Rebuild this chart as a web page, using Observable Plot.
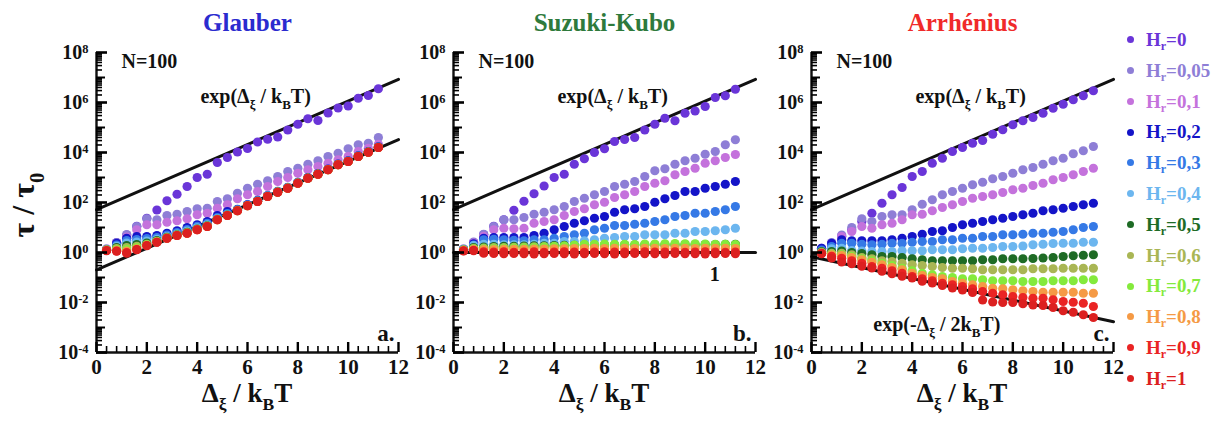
<!DOCTYPE html>
<html><head><meta charset="utf-8">
<script src="https://cdn.jsdelivr.net/npm/d3@7"></script>
<script src="https://cdn.jsdelivr.net/npm/@observablehq/plot@0.6"></script>
<style>
body{margin:0;background:#fff;}
#chart{position:relative;width:1220px;height:421px;overflow:hidden;font-family:"Liberation Serif","Times New Roman",serif;}
.panel{position:absolute;top:0;}
.item{position:absolute;left:1127px;white-space:nowrap;font-weight:bold;font-size:19px;line-height:20px;}
.item .dot{display:inline-block;width:7px;height:7px;border-radius:50%;margin-right:12px;vertical-align:middle;position:relative;top:-2px;}
.item sub{font-size:12px;vertical-align:-4px;}
</style></head><body><div id="chart"></div><script>
// ---------- data ----------
const xs = [0.4,0.8,1.2,1.6,2.0,2.4,2.8,3.2,3.6,4.0,4.4,4.8,5.2,5.6,6.0,6.4,6.8,7.2,7.6,8.0,8.4,8.8,9.2,9.6,10.0,10.4,10.8,11.2];
const hrLabels = ["0","0,05","0,1","0,2","0,3","0,4","0,5","0,6","0,7","0,8","0,9","1"];
const hrColors = ["#6a35d8","#8e7ed6","#c472dc","#1414c8","#3579e6","#6cb6ef","#1e6b25","#a9b654","#84ea3c","#f59a45","#ea2424","#dc2020"];
const yTickLabels = ["10^-4","10^-2","10^0","10^2","10^4","10^6","10^8"];
const xTickLabels = ["0","2","4","6","8","10","12"];
const titles = ["Glauber","Suzuki-Kubo","Arrhénius"];
const titleColors = ["#2b2bcf","#2e7a3c","#f02a2a"];

// log10(tau/tau0), one array per H_r
const glauber_0    = [0.1,0.4,0.7,1.05,1.37,1.7,2.07,2.33,2.64,3.0,3.13,3.6,3.8,4.02,4.16,4.42,4.53,4.62,4.9,5.13,5.35,5.28,5.58,5.78,5.86,6.17,6.28,6.55];
const glauber_005  = [0.15,0.4,0.72,1.04,1.35,1.31,1.48,1.53,1.64,1.75,1.77,2.04,2.15,2.37,2.57,2.73,2.87,3.04,3.24,3.37,3.53,3.67,3.84,3.97,4.15,4.31,4.37,4.6];
const glauber_01   = [0.12,0.35,0.62,0.91,1.11,1.11,1.21,1.27,1.35,1.51,1.57,1.77,1.91,2.15,2.31,2.44,2.64,2.84,3.0,3.17,3.31,3.44,3.57,3.71,3.84,4.04,4.17,4.33];
const glauber_02   = [0.1,0.37,0.57,0.64,0.64,0.68,0.77,0.87,1.0,1.11,1.24,1.48,1.64,1.73,1.92,2.09,2.28,2.45,2.61,2.81,3.0,3.16,3.34,3.54,3.67,3.87,4.04,4.23];
const glauber_03   = [0.1,0.3,0.48,0.52,0.56,0.6,0.7,0.8,0.92,1.05,1.17,1.4,1.56,1.71,1.9,2.07,2.27,2.44,2.6,2.8,2.99,3.15,3.33,3.53,3.66,3.86,4.03,4.22];
const glauber_04   = [0.1,0.25,0.38,0.42,0.46,0.53,0.64,0.74,0.86,0.99,1.11,1.36,1.52,1.7,1.89,2.06,2.26,2.43,2.59,2.79,2.98,3.14,3.32,3.52,3.65,3.85,4.02,4.21];
const glauber_05   = [0.1,0.2,0.28,0.32,0.38,0.48,0.61,0.71,0.81,0.94,1.07,1.33,1.5,1.69,1.88,2.05,2.25,2.42,2.58,2.78,2.98,3.14,3.32,3.52,3.65,3.85,4.02,4.21];
const glauber_06   = [0.1,0.16,0.2,0.25,0.33,0.45,0.59,0.7,0.79,0.93,1.06,1.32,1.49,1.68,1.88,2.05,2.25,2.42,2.58,2.78,2.97,3.13,3.31,3.51,3.64,3.84,4.01,4.2];
const glauber_07   = [0.1,0.12,0.13,0.2,0.31,0.44,0.58,0.69,0.78,0.92,1.05,1.31,1.48,1.67,1.87,2.04,2.24,2.41,2.57,2.77,2.97,3.13,3.31,3.51,3.64,3.84,4.01,4.2];
const glauber_08   = [0.09,0.09,0.06,0.15,0.29,0.42,0.57,0.68,0.77,0.91,1.04,1.31,1.48,1.67,1.87,2.04,2.24,2.41,2.57,2.77,2.97,3.13,3.31,3.51,3.64,3.84,4.01,4.2];
const glauber_09   = [0.08,0.06,0.0,0.12,0.28,0.41,0.57,0.68,0.77,0.91,1.04,1.31,1.48,1.67,1.87,2.04,2.24,2.41,2.57,2.77,2.97,3.13,3.31,3.51,3.64,3.84,4.01,4.2];
const glauber_1    = [0.07,0.05,-0.03,0.11,0.27,0.41,0.57,0.68,0.77,0.91,1.04,1.31,1.48,1.67,1.87,2.04,2.24,2.41,2.57,2.77,2.97,3.13,3.31,3.51,3.64,3.84,4.01,4.2];

const suzuki_0   = [0.1,0.4,0.72,1.05,1.31,1.69,2.05,2.35,2.66,3.0,3.13,3.53,3.75,4.0,4.15,4.44,4.52,4.6,4.9,5.13,5.37,5.27,5.57,5.66,5.84,6.2,6.27,6.53];
const suzuki_005 = [0.15,0.42,0.73,1.04,1.31,1.31,1.4,1.53,1.61,1.71,1.84,2.04,2.17,2.31,2.44,2.64,2.73,2.84,3.04,3.27,3.35,3.53,3.67,3.77,3.93,4.04,4.31,4.51];
const suzuki_01  = [0.12,0.38,0.65,0.91,0.97,0.95,0.97,1.17,1.24,1.31,1.48,1.64,1.75,1.91,2.01,2.2,2.31,2.44,2.64,2.77,2.87,3.11,3.24,3.37,3.57,3.67,3.8,3.92];
const suzuki_02  = [0.12,0.35,0.57,0.6,0.6,0.6,0.6,0.68,0.77,0.91,1.04,1.17,1.27,1.37,1.44,1.61,1.71,1.75,1.84,2.01,2.15,2.28,2.44,2.44,2.57,2.64,2.73,2.84];
const suzuki_03  = [0.12,0.3,0.51,0.53,0.51,0.49,0.47,0.51,0.51,0.57,0.64,0.71,0.77,0.91,0.97,1.08,1.08,1.13,1.17,1.24,1.31,1.44,1.48,1.57,1.57,1.64,1.71,1.84];
const suzuki_04  = [0.12,0.28,0.33,0.33,0.31,0.31,0.31,0.33,0.37,0.37,0.44,0.44,0.47,0.51,0.57,0.6,0.64,0.64,0.71,0.71,0.71,0.77,0.77,0.84,0.84,0.87,0.91,0.97];
const suzuki_05  = [0.1,0.2,0.22,0.24,0.25,0.25,0.26,0.27,0.27,0.28,0.29,0.29,0.3,0.3,0.3,0.3,0.31,0.3,0.31,0.31,0.31,0.31,0.32,0.31,0.32,0.32,0.33,0.33];
const suzuki_06  = [0.1,0.17,0.18,0.2,0.2,0.21,0.22,0.23,0.24,0.25,0.26,0.27,0.28,0.3,0.3,0.3,0.31,0.3,0.29,0.29,0.28,0.28,0.28,0.27,0.27,0.26,0.27,0.26];
const suzuki_07  = [0.1,0.14,0.15,0.16,0.17,0.18,0.19,0.2,0.22,0.24,0.26,0.3,0.33,0.33,0.34,0.33,0.33,0.32,0.34,0.34,0.35,0.36,0.35,0.35,0.34,0.33,0.33,0.32];
const suzuki_08  = [0.09,0.12,0.12,0.12,0.13,0.13,0.13,0.14,0.14,0.15,0.15,0.16,0.16,0.17,0.16,0.17,0.17,0.16,0.17,0.17,0.16,0.17,0.17,0.16,0.17,0.17,0.17,0.16];
const suzuki_09  = [0.07,0.09,0.03,0.02,0.03,0.01,0.02,0.03,0.01,0.02,0.03,0.02,0.01,0.02,0.03,0.02,0.02,0.01,0.03,0.02,0.02,0.03,0.01,0.02,0.03,0.02,0.01,0.02];
const suzuki_1   = [0.06,0.07,-0.03,-0.04,-0.05,-0.04,-0.05,-0.06,-0.05,-0.04,-0.05,-0.06,-0.05,-0.04,-0.05,-0.06,-0.05,-0.04,-0.05,-0.05,-0.06,-0.04,-0.05,-0.05,-0.06,-0.05,-0.04,-0.05];

const arrhenius_0   = [0.17,0.37,0.64,0.91,1.24,1.57,1.97,2.31,2.6,3.04,3.24,3.57,3.77,4.04,4.2,4.37,4.48,4.73,4.91,5.11,5.27,5.4,5.57,5.77,5.93,6.11,6.27,6.47];
const arrhenius_005 = [0.15,0.4,0.7,1.0,1.35,1.24,1.44,1.51,1.51,1.71,1.93,2.11,2.31,2.44,2.57,2.71,2.81,2.95,3.04,3.17,3.31,3.4,3.53,3.67,3.77,3.95,4.07,4.24];
const arrhenius_01  = [0.12,0.35,0.64,0.84,1.04,0.97,1.11,1.17,1.31,1.51,1.53,1.67,1.8,1.91,2.04,2.17,2.24,2.31,2.4,2.51,2.57,2.68,2.77,2.91,3.0,3.11,3.24,3.37];
const arrhenius_02  = [0.17,0.37,0.51,0.47,0.47,0.47,0.47,0.51,0.57,0.64,0.73,0.84,0.87,1.0,1.11,1.17,1.24,1.31,1.37,1.44,1.51,1.57,1.67,1.71,1.77,1.84,1.91,1.97];
const arrhenius_03  = [0.1,0.24,0.37,0.37,0.33,0.31,0.33,0.37,0.37,0.41,0.44,0.44,0.51,0.51,0.57,0.57,0.64,0.64,0.71,0.71,0.73,0.77,0.77,0.81,0.84,0.91,1.0,1.04];
const arrhenius_04  = [0.04,0.15,0.17,0.08,0.06,0.04,0.04,0.04,0.07,0.07,0.07,0.11,0.11,0.11,0.15,0.17,0.17,0.2,0.24,0.24,0.26,0.31,0.33,0.36,0.37,0.37,0.41,0.41];
const arrhenius_05  = [0.04,0.04,0.06,0.0,-0.04,-0.09,-0.16,-0.16,-0.2,-0.25,-0.29,-0.33,-0.33,-0.33,-0.33,-0.33,-0.29,-0.29,-0.25,-0.25,-0.25,-0.24,-0.22,-0.2,-0.16,-0.13,-0.11,-0.09];
const arrhenius_06  = [0.01,-0.03,-0.03,-0.09,-0.2,-0.25,-0.33,-0.36,-0.43,-0.49,-0.52,-0.56,-0.6,-0.63,-0.63,-0.65,-0.69,-0.69,-0.69,-0.69,-0.69,-0.65,-0.65,-0.65,-0.63,-0.63,-0.63,-0.63];
const arrhenius_07  = [-0.03,-0.07,-0.09,-0.16,-0.25,-0.33,-0.43,-0.52,-0.63,-0.73,-0.83,-0.89,-0.96,-1.0,-1.05,-1.05,-1.09,-1.13,-1.13,-1.13,-1.16,-1.16,-1.16,-1.13,-1.13,-1.13,-1.09,-1.09];
const arrhenius_08  = [-0.03,-0.09,-0.12,-0.2,-0.29,-0.39,-0.49,-0.6,-0.69,-0.83,-0.92,-1.0,-1.05,-1.16,-1.23,-1.29,-1.36,-1.43,-1.45,-1.49,-1.53,-1.56,-1.59,-1.59,-1.59,-1.59,-1.63,-1.63];
const arrhenius_09  = [-0.03,-0.15,-0.23,-0.33,-0.43,-0.56,-0.63,-0.73,-0.83,-0.96,-1.05,-1.13,-1.23,-1.29,-1.36,-1.45,-1.56,-1.63,-1.69,-1.76,-1.8,-1.83,-1.83,-1.89,-1.96,-1.99,-2.03,-2.16];
const arrhenius_1   = [-0.05,-0.22,-0.38,-0.45,-0.55,-0.62,-0.75,-0.85,-0.95,-1.02,-1.15,-1.22,-1.32,-1.42,-1.5,-1.6,-1.9,-1.98,-2.0,-2.0,-2.05,-2.1,-2.12,-2.2,-2.33,-2.39,-2.49,-2.6];

// reference lines (values at x = 0 and x = 12)
const lineX = [0, 12];
const expUpper = [52, 8.5e6];          // exp(Δ/kT)
const glauberLower = [0.2, 3.3e4];
const unityLine = [1, 1];
const expHalfDown = [0.68, 1.7e-3];    // exp(-Δ/2kT)

// ---------- drawing ----------
const FONT = '"Liberation Serif","Times New Roman",serif';
const chart = document.getElementById("chart");
const yMajor = [1e-4,1e-2,1,1e2,1e4,1e6,1e8];
const yOdd = [1e-3,1e-1,1e1,1e3,1e5,1e7];
const yMinor = d3.range(-4, 8).flatMap(e => [2,3,4,5,6,7,8,9].map(k => k * 10 ** e));
const xMajor = [0,2,4,6,8,10,12];
const xMinor = d3.range(0, 31).map(i => +(i * 0.4).toFixed(1)).filter(v => v <= 12 && !xMajor.includes(v));

// tick lengths in scale units (x: 12 units over 302 px; y: 12 decades over 300 px)
const PX_X = 12 / 302, PX_Y = 12 / 300;
const TICK = "#000";
const yTickRule = (values, px, sw) => Plot.ruleY(values, {x1: 0, x2: px * PX_X, stroke: TICK, strokeWidth: sw});
const xTickRule = (values, px, sw) => Plot.ruleX(values, {y1: 1e-4, y2: 1e-4 * 10 ** (px * PX_Y), stroke: TICK, strokeWidth: sw});

function rich(svg, x, y, parts, {size = 20, fill = "#111", anchor = "start", rotate = 0} = {}) {
  const t = d3.select(svg).append("text").attr("x", x).attr("y", y)
    .attr("font-family", FONT).attr("font-weight", "bold").attr("font-size", size)
    .attr("fill", fill).attr("text-anchor", anchor);
  if (rotate) t.attr("transform", `rotate(${rotate},${x},${y})`);
  let shift = 0;
  for (const [s, kind] of parts) {
    const target = kind === "sub" ? 0.3 * size : kind === "sup" ? -0.42 * size : 0;
    const ts = t.append("tspan").text(s).attr("dy", target - shift);
    if (kind) ts.attr("font-size", size * 0.65);
    shift = target;
  }
  return t;
}

function makePanel(idx, series, lines, {left, width, ml, mr, letter}) {
  const rows = [];
  series.forEach((arr, i) => arr.forEach((v, j) => rows.push({x: xs[j], y: 10 ** v, hr: hrLabels[i]})));
  const lineRows = lines.flatMap((ys, k) => ys.map((v, j) => ({x: lineX[j], y: v, id: k})));
  const plot = Plot.plot({
    width, height: 421,
    marginLeft: ml, marginRight: mr, marginTop: 52, marginBottom: 69,
    style: {background: "transparent", fontFamily: FONT, overflow: "visible", maxWidth: "none"},
    x: {domain: [0, 12], label: null},
    y: {type: "log", domain: [1e-4, 1e8], label: null},
    color: {domain: hrLabels, range: hrColors},
    marks: [
      Plot.axisY(yMajor, {tickSize: 0, tickPadding: 8, label: null,
        tickFormat: d => yTickLabels[yMajor.indexOf(d)], fontSize: 20, fontWeight: "bold", fill: "#111"}),
      Plot.axisX(xMajor, {tickSize: 0, tickPadding: 7, label: null,
        tickFormat: d => xTickLabels[xMajor.indexOf(d)], fontSize: 21, fontWeight: "bold", fill: "#111"}),
      Plot.ruleX([0], {strokeWidth: 2.4, stroke: "#111"}),
      Plot.ruleY([1e-4], {strokeWidth: 2.4, stroke: "#111"}),
      Plot.line(lineRows, {x: "x", y: "y", z: "id", stroke: "#111", strokeWidth: 3}),
      Plot.dot(rows, {x: "x", y: "y", fill: "hr", r: 4.6}),
      yTickRule(yMinor, 6, 1.6),
      yTickRule(yOdd, 9, 2),
      yTickRule(yMajor, 11, 2.6),
      xTickRule(xMinor, 6, 1.6),
      xTickRule(xMajor, 10, 2.4),
      Plot.text(["N=100"], {frameAnchor: "top-left", dx: 25, dy: 1, lineAnchor: "top", textAnchor: "start",
        fontSize: 20, fontWeight: "bold", fill: "#111"}),
      Plot.text([letter], {frameAnchor: "bottom-right", dx: -4, dy: -12, lineAnchor: "bottom", textAnchor: "end",
        fontSize: 23, fontWeight: "bold", fill: "#111"}),
      Plot.text([titles[idx]], {frameAnchor: "top", dy: -22, lineAnchor: "bottom",
        fontSize: 25, fontWeight: "bold", fill: titleColors[idx]})
    ]
  });
  plot.classList.add("panel");
  plot.style.left = left + "px";
  chart.appendChild(plot);
  // superscripts on y tick labels
  plot.querySelectorAll('g[aria-label="y-axis tick label"] text').forEach(t => {
    if (!t.textContent.includes("^")) return;
    const [b, e] = t.textContent.split("^");
    t.textContent = "";
    const s = d3.select(t);
    s.append("tspan").text(b);
    s.append("tspan").text(e).attr("dy", "-0.45em").attr("font-size", "0.62em");
  });
  const sx = v => plot.scale("x").apply(v), sy = v => plot.scale("y").apply(v);
  // x-axis title
  rich(plot, (sx(0) + sx(12)) / 2, 402, [["Δ"], ["ξ", "sub"], [" / k"], ["B", "sub"], ["T"]], {size: 27, anchor: "middle"});
  return {plot, sx, sy};
}

const A = makePanel(0,
  [glauber_0, glauber_005, glauber_01, glauber_02, glauber_03, glauber_04, glauber_05, glauber_06, glauber_07, glauber_08, glauber_09, glauber_1],
  [expUpper, glauberLower], {left: 0, width: 420, ml: 96, mr: 22, letter: "a."});
const B = makePanel(1,
  [suzuki_0, suzuki_005, suzuki_01, suzuki_02, suzuki_03, suzuki_04, suzuki_05, suzuki_06, suzuki_07, suzuki_08, suzuki_09, suzuki_1],
  [expUpper, unityLine], {left: 400, width: 375, ml: 53, mr: 20, letter: "b."});
const C = makePanel(2,
  [arrhenius_0, arrhenius_005, arrhenius_01, arrhenius_02, arrhenius_03, arrhenius_04, arrhenius_05, arrhenius_06, arrhenius_07, arrhenius_08, arrhenius_09, arrhenius_1],
  [expUpper, expHalfDown], {left: 758, width: 375, ml: 53, mr: 20, letter: "c."});

const expParts = [["exp(Δ"], ["ξ", "sub"], [" / k"], ["B", "sub"], ["T)"]];
for (const P of [A, B, C]) rich(P.plot, P.sx(4.15), P.sy(10 ** 5.95), expParts, {size: 20});
rich(C.plot, C.sx(5.0), C.sy(10 ** -3.15), [["exp(-Δ"], ["ξ", "sub"], [" / 2k"], ["B", "sub"], ["T)"]], {size: 20, anchor: "middle"});
rich(B.plot, B.sx(10.4), B.sy(10 ** -1.15), [["1"]], {size: 20, anchor: "middle"});
// y-axis title
rich(A.plot, 34, 205, [["τ / τ"], ["0", "sub"]], {size: 32, anchor: "middle", rotate: -90});

// legend
hrLabels.forEach((h, i) => {
  const d = document.createElement("div");
  d.className = "item";
  d.style.top = (30 + i * 30.8) + "px";
  d.style.color = hrColors[i];
  d.innerHTML = `<span class="dot" style="background:${hrColors[i]}"></span>H<sub>r</sub>=${h}`;
  chart.appendChild(d);
});
</script></body></html>
